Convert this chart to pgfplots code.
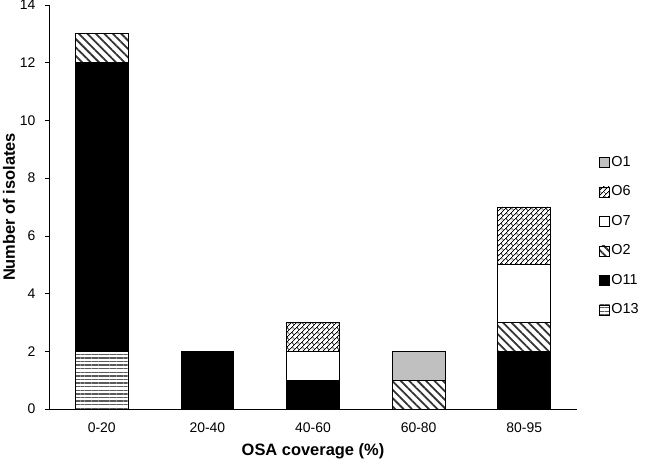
\documentclass[border=0pt]{standalone}
\usepackage{fontspec}
\setmainfont{Liberation Sans}
\usepackage{pgfplots}
\pgfplotsset{compat=1.18}
\usetikzlibrary{patterns.meta}

\definecolor{lgray}{RGB}{192,192,192}
\definecolor{hgray}{RGB}{90,90,90}

\tikzdeclarepattern{
  name=diagbrick,
  type=uncolored,
  bottom left={(0pt,0pt)},
  top right={(7pt,7pt)},
  tile size={(7pt,7pt)},
  tile transformation={rotate=45},
  code={
    \draw[line width=0.7pt] (0pt,1.75pt) -- (7pt,1.75pt) (0pt,5.25pt) -- (7pt,5.25pt)
      (1.75pt,1.75pt) -- (1.75pt,5.25pt) (5.25pt,5.25pt) -- (5.25pt,7pt)
      (5.25pt,0pt) -- (5.25pt,1.75pt);
  }
}

\pgfplotstableread{
x  O13 O11 O2 O7 O6 O1
0  2   10  1  0  0  0
1  0   2   0  0  0  0
2  0   1   0  1  1  0
3  0   0   1  0  0  1
4  0   2   1  2  2  0
}\isolates

\begin{document}
\begin{tikzpicture}
\useasboundingbox (-49bp,-53bp) rectangle (601bp,409bp);
\begin{axis}[
  at={(0,0)}, anchor=south west,
  scale only axis,
  width=528bp, height=404bp,
  ybar stacked,
  bar width=0.5,
  xmin=-0.5, xmax=4.5,
  ymin=0, ymax=14,
  xtick={0,1,2,3,4},
  xticklabels={0-20,20-40,40-60,60-80,80-95},
  x tick style={draw=none},
  extra x ticks={0.5,1.5,2.5,3.5,4.5},
  extra x tick labels={},
  extra x tick style={major tick length=5bp, tick style={draw=black, line width=0.7pt}},
  ytick={0,2,...,14},
  y tick style={black, line width=0.7pt},
  major tick length=4bp,
  tick align=outside,
  axis x line*=bottom,
  axis y line*=left,
  axis line style={line width=0.8pt, -},
  /pgf/number format/assume math mode=true,
  tick label style={font=\fontsize{14}{16}\selectfont},
  xticklabel style={yshift=-6bp},
  yticklabel style={xshift=-6bp},
  xlabel={\textbf{OSA coverage (\%)}},
  ylabel={\textbf{Number of isolates}},
  label style={font=\fontsize{16.5}{19}\selectfont},
  xlabel style={at={(axis description cs:0.5,-0.1139)}, anchor=base},
  ylabel style={at={(axis description cs:-0.0644,0.5)}, anchor=base},
  reverse legend,
  legend cell align=left,
  legend style={at={(1.042,0.428)}, anchor=west, draw=none, fill=none,
    font=\fontsize{14.5}{17}\selectfont, inner sep=0pt,
    row sep=12.6pt,
    nodes={inner sep=1.5pt, text height=11pt, text depth=3pt, font=\fontsize{14.5}{17}\selectfont}},
  legend image code/.code={\draw[#1, line width=0.6pt] (0bp,-5bp) rectangle (10bp,5bp);},
  every axis plot/.append style={draw=black, line width=0.8pt},
]
\addplot[pattern={Lines[angle=0,distance=3.6pt,line width=1.4pt]}, pattern color=hgray]
  table[x=x,y=O13]{\isolates};
\addplot[fill=black] table[x=x,y=O11]{\isolates};
\addplot[pattern={Lines[angle=-45,distance=6pt,line width=1.8pt]}, pattern color=black!80]
  table[x=x,y=O2]{\isolates};
\addplot[fill=white] table[x=x,y=O7]{\isolates};
\addplot[pattern=diagbrick, pattern color=black] table[x=x,y=O6]{\isolates};
\addplot[fill=lgray] table[x=x,y=O1]{\isolates};
\legend{O13,O11,O2,O7,O6,O1}
\end{axis}
\end{tikzpicture}
\end{document}
